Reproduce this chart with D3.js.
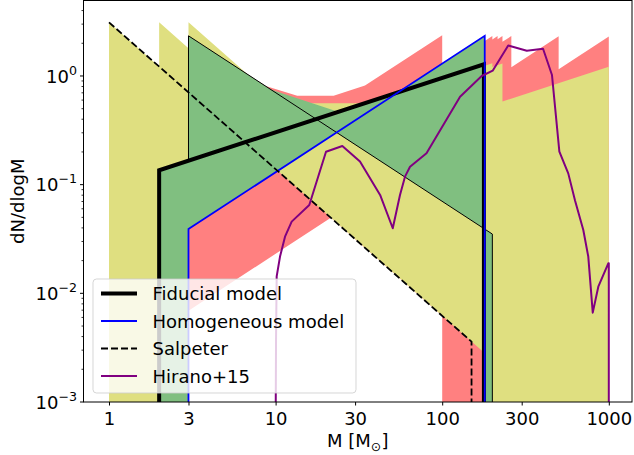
<!DOCTYPE html>
<html>
<head>
<meta charset="utf-8">
<script src="https://cdn.jsdelivr.net/npm/d3@7"></script>
<style>
  body { margin: 0; background: #fff; }
  text { font-family: "DejaVu Sans", sans-serif; fill: #000; }
</style>
</head>
<body>
<svg id="chart" width="634" height="455"></svg>
<script>
// ---- data: [stellar mass M (Msun), dN/dlogM] ----
const FLOOR = 1e-4;

// shaded model envelopes (outline vertices)
const redRegion = [
  [3, 0.00693], [3, 2.342], [8.71, 0.81], [13.49, 0.657], [22.3, 0.657], [34.4, 0.816],
  [100, 2.374], [100, 1.301], [180, 2.342], [180, 2.104], [200, 2.338], [200, 2.172],
  [215, 2.335], [215, 2.181], [230, 2.333], [230, 2.061], [260, 2.33], [260, 1.205],
  [500, 2.316], [500, 1.155], [1000, 2.31], [1000, FLOOR], [100, FLOOR],
  [100, 0.00621], [21.46, 0.0496]
];
const yellowRegion = [
  [1, 3.112], [2, 1.224], [2, 3.118], [3, 1.804], [3, 3.124], [10.66, 0.5624],
  [32.6, 0.5624], [180, 1.321], [180, 1.245], [200, 1.312], [200, 1.212], [230, 1.30],
  [230, 0.582], [1000, 1.214], [1000, FLOOR], [181, FLOOR], [181, 0.0028],
  [3, 0.7064], [3, FLOOR], [1, FLOOR]
];
const greenRegion = [
  [2, FLOOR], [2, 0.1357], [3, 0.1661], [3, 2.342], [9.42, 0.7458], [23.24, 0.4748],
  [57.4, 0.7462], [180, 2.342], [180, 0.039], [200, 0.0351], [200, FLOOR],
  [180, FLOOR], [180, 0.039], [23.2, 0.3027], [3, 0.039], [3, FLOOR]
];
// outline of the M^-1 edge of the green envelope
const greenEdge = [[3, 0.17], [3, 2.342], [200, 0.0351], [200, FLOOR]];

// model curves
const fiducial = [[2, FLOOR], [2, 0.1357], [178, 1.279], [178, FLOOR]];
const homogeneous = [[3, FLOOR], [3, 0.039], [180, 2.342], [180, FLOOR]];
const salpeter = [[1, 3.112], [150, 0.00359], [150, FLOOR]];
const hirano = [
  [10.0, 0.0005], [10.06, 0.0037], [10.15, 0.0143], [10.63, 0.0218], [11.39, 0.0332],
  [12.49, 0.0457], [15.93, 0.065], [20.07, 0.201], [25.15, 0.227], [32.1, 0.163],
  [42.4, 0.0804], [50.5, 0.0397], [55.8, 0.0804], [59.8, 0.1185], [64.1, 0.146],
  [80.5, 0.1945], [101.5, 0.354], [128, 0.645], [172.6, 1.0], [200.9, 1.119],
  [249, 1.91], [322, 1.71], [403, 1.78], [456, 1.02], [505, 0.201], [571, 0.127],
  [627, 0.0716], [703, 0.0383], [753, 0.0218], [801, 0.00664], [865, 0.0115],
  [993, 0.0189], [1000, 0.0189], [1000, 0.0005]
];

const xTicks = [1, 3, 10, 30, 100, 300, 1000];
const yTicks = [1e-3, 1e-2, 1e-1, 1e0];
const yTickExp = ["\u22123", "\u22122", "\u22121", "0"];

const legendItems = [
  { label: "Fiducial model", color: "#000", width: 4, dash: null },
  { label: "Homogeneous model", color: "#0000ff", width: 1.8, dash: null },
  { label: "Salpeter", color: "#000", width: 1.8, dash: "7,3" },
  { label: "Hirano+15", color: "#800080", width: 2, dash: null }
];

// ---- layout ----
const L = 83.5, R = 632, T = 0.5, B = 402;
const svg = d3.select("#chart");
const x = d3.scaleLog().domain([0.703, 1378]).range([L, R]);
const y = d3.scaleLog().domain([1e-3, 4.95]).range([B, T]);

svg.append("defs").append("clipPath").attr("id", "plotclip")
  .append("rect").attr("x", L).attr("y", T).attr("width", R - L).attr("height", B - T);

const plot = svg.append("g").attr("clip-path", "url(#plotclip)");
const line = d3.line().x(d => x(d[0])).y(d => y(d[1]));

plot.append("path").attr("d", line(redRegion) + "Z").attr("fill", "#ff8080");
plot.append("path").attr("d", line(yellowRegion) + "Z").attr("fill", "#dfdf80");
plot.append("path").attr("d", line(greenRegion) + "Z").attr("fill", "#80bf80");
plot.append("path").attr("d", line(greenEdge)).attr("fill", "none")
  .attr("stroke", "#000").attr("stroke-width", 1);

plot.append("path").attr("d", line(fiducial)).attr("fill", "none")
  .attr("stroke", "#000").attr("stroke-width", 4).attr("stroke-linejoin", "miter");
plot.append("path").attr("d", line(homogeneous)).attr("fill", "none")
  .attr("stroke", "#0000ff").attr("stroke-width", 1.8);
plot.append("path").attr("d", line(salpeter)).attr("fill", "none")
  .attr("stroke", "#000").attr("stroke-width", 1.8).attr("stroke-dasharray", "7,3");
plot.append("path").attr("d", line(hirano)).attr("fill", "none")
  .attr("stroke", "#800080").attr("stroke-width", 2).attr("stroke-linejoin", "round");

// ---- axes ----
const xAxis = svg.append("g").attr("transform", `translate(0,${B})`)
  .call(d3.axisBottom(x).tickValues(xTicks).tickFormat(d => String(d))
    .tickSize(3.5).tickPadding(7));
xAxis.select(".domain").remove();
xAxis.selectAll("text").attr("font-size", 18).attr("font-family", "DejaVu Sans");
xAxis.selectAll("line").attr("stroke", "#000");

const yMinor = [];
for (let e = -3; e <= 0; e++) for (let k = 2; k <= 9; k++) {
  const v = k * Math.pow(10, e);
  if (v < 4.95) yMinor.push(v);
}
const yAxisG = svg.append("g");
yAxisG.selectAll(".minor").data(yMinor).join("line")
  .attr("x1", L - 2).attr("x2", L).attr("y1", d => y(d)).attr("y2", d => y(d))
  .attr("stroke", "#000").attr("stroke-width", 0.8);
yAxisG.selectAll(".major").data(yTicks).join("line")
  .attr("x1", L - 3.5).attr("x2", L).attr("y1", d => y(d)).attr("y2", d => y(d))
  .attr("stroke", "#000").attr("stroke-width", 1);
const yl = yAxisG.selectAll(".lab").data(yTicks).join("text")
  .attr("x", 77).attr("y", d => y(d) + 6.8).attr("text-anchor", "end")
  .attr("font-size", 18);
yl.append("tspan").text("10");
yl.append("tspan").attr("dy", -8).attr("font-size", 12.6).text((d, i) => yTickExp[i]);

// frame
svg.append("rect").attr("x", L).attr("y", T).attr("width", R - L).attr("height", B - T)
  .attr("fill", "none").attr("stroke", "#000").attr("stroke-width", 1);

// axis titles
const xl = svg.append("text").attr("x", (L + R) / 2).attr("y", 447)
  .attr("text-anchor", "middle").attr("font-size", 18);
xl.append("tspan").text("M [M");
xl.append("tspan").attr("dy", 4).attr("font-size", 12.6).text("\u2299");
xl.append("tspan").attr("dy", -4).text("]");

svg.append("text").attr("transform", `translate(24,${(T + B) / 2}) rotate(-90)`)
  .attr("text-anchor", "middle").attr("font-size", 18).text("dN/dlogM");

// ---- legend ----
const lg = svg.append("g");
lg.append("rect").attr("x", 93).attr("y", 279).attr("width", 263).attr("height", 114)
  .attr("rx", 3.5).attr("fill", "#fff").attr("fill-opacity", 0.8)
  .attr("stroke", "#ccc").attr("stroke-opacity", 0.8).attr("stroke-width", 1);
legendItems.forEach((it, i) => {
  const cy = 293.5 + i * 27.5;
  const l = lg.append("line").attr("x1", 101).attr("x2", 137).attr("y1", cy).attr("y2", cy)
    .attr("stroke", it.color).attr("stroke-width", it.width);
  if (it.dash) l.attr("stroke-dasharray", it.dash);
  lg.append("text").attr("x", 152.5).attr("y", cy + 6.5).attr("font-size", 18).text(it.label);
});
</script>
</body>
</html>
